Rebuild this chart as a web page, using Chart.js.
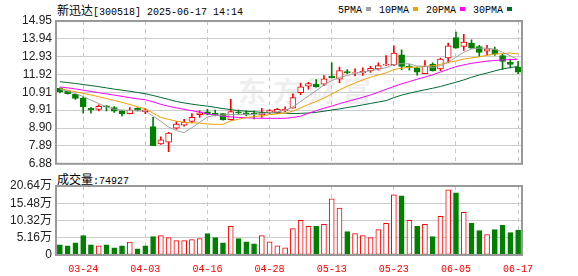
<!DOCTYPE html>
<html><head><meta charset="utf-8">
<script src="https://cdn.jsdelivr.net/npm/chart.js@4.4.1/dist/chart.umd.min.js"></script>
<style>
html,body{margin:0;padding:0;background:#fff;width:578px;height:276px;overflow:hidden;position:relative}
.t{position:absolute;white-space:nowrap;color:#000;line-height:14px}
.cjk{font:12px 'Noto Sans CJK SC',sans-serif}
.asc{font:10px 'Liberation Mono',monospace}
.sq{display:inline-block;width:5px;height:4px;margin:0 8px 1px 4px;vertical-align:middle}
canvas{position:absolute;left:0}
#wm{position:absolute;left:238px;top:70px;font:bold 28px 'Noto Sans CJK SC',sans-serif;color:#000;opacity:0.06;letter-spacing:7px;white-space:nowrap}
</style></head><body>
<div id="wm">东方财富</div>
<div class="t" id="title" style="left:57px;top:1px"></div>
<div class="t" id="legend" style="left:338px;top:1px"></div>
<div class="t" id="vtitle" style="left:57px;top:170px"></div>
<canvas id="c1" width="578" height="175" style="top:0"></canvas>
<canvas id="c2" width="578" height="106" style="top:170px"></canvas>
<script>
const stockName = '新迅达';
const stockCode = '300518';
const stamp = '2025-06-17 14:14';
const volLabel = '成交量';
const lastVolume = 74927;

const dates = ['03-19','03-20','03-21','03-24','03-25','03-26','03-27','03-28','03-31','04-01','04-02','04-03','04-07','04-08','04-09','04-10','04-11','04-14','04-15','04-16','04-17','04-18','04-21','04-22','04-23','04-24','04-25','04-28','04-29','04-30','05-06','05-07','05-08','05-09','05-12','05-13','05-14','05-15','05-16','05-19','05-20','05-21','05-22','05-23','05-26','05-27','05-28','05-29','05-30','06-03','06-04','06-05','06-06','06-09','06-10','06-11','06-12','06-13','06-16','06-17'];
const tickDates = ['03-24','04-03','04-16','04-28','05-13','05-23','06-05','06-17'];

const opens = [11.14,10.99,10.80,10.58,10.02,9.96,10.15,10.06,9.87,9.72,
 10.02,9.83,8.99,8.00,8.10,8.90,9.07,9.27,9.66,9.81,
 9.74,9.72,9.38,9.81,9.76,9.74,9.65,9.76,9.76,9.87,
 10.02,10.90,11.27,11.37,11.38,11.83,11.66,12.09,12.00,12.02,
 12.15,12.24,12.45,12.47,13.04,12.39,12.30,11.98,12.52,12.24,
 12.86,14.02,13.51,13.70,13.51,13.25,13.33,12.99,12.62,12.34];
const highs = [11.18,11.01,10.82,10.67,10.06,10.21,10.17,10.11,9.89,10.06,
 10.06,10.00,9.50,8.41,8.66,9.27,9.39,9.72,9.87,9.96,
 9.91,9.72,10.52,9.92,9.87,9.87,10.02,9.95,10.02,10.10,
 10.84,11.44,11.49,11.64,11.87,12.58,12.34,12.20,12.24,12.30,
 12.39,12.58,12.99,13.55,13.32,12.49,12.34,12.71,12.58,12.86,
 13.70,14.32,14.20,13.89,13.57,13.57,13.48,13.08,12.80,12.67];
const lows = [10.88,10.82,10.52,9.74,9.74,9.87,9.87,9.78,9.59,9.70,
 9.87,9.72,7.90,7.98,7.57,8.84,9.01,9.20,9.50,9.64,
 9.59,9.35,9.35,9.68,9.59,9.42,9.50,9.72,9.72,9.83,
 10.02,10.78,11.10,11.21,11.29,11.74,11.46,11.98,11.85,11.87,
 12.05,12.17,12.43,12.43,12.20,12.17,11.89,11.98,12.11,12.15,
 12.58,13.42,13.29,13.40,12.95,13.05,13.01,12.21,12.30,11.98];
const closes = [10.94,10.84,10.58,10.10,9.93,10.13,10.09,9.85,9.72,9.91,
 9.91,9.93,7.91,8.23,8.62,9.12,9.22,9.50,9.76,9.68,
 9.64,9.38,9.83,9.76,9.65,9.68,9.76,9.89,9.96,9.96,
 10.62,11.23,11.42,11.23,11.68,11.74,12.15,12.02,12.04,12.11,
 12.28,12.43,12.50,13.14,12.39,12.33,12.06,12.39,12.15,12.80,
 13.55,13.42,13.76,13.42,13.18,13.38,13.08,12.67,12.50,12.06];

// volume in 万
const volumes = [3.05,2.75,3.66,5.80,3.05,2.75,3.05,2.14,2.75,3.87,
 1.83,2.75,5.50,5.80,5.20,4.30,4.30,4.60,4.90,6.40,
 5.20,3.66,8.55,4.90,3.97,3.36,5.80,3.97,2.75,2.14,
 7.94,10.40,8.55,8.55,9.16,16.80,14.05,7.00,6.40,5.80,
 5.20,7.60,9.47,18.00,17.70,10.40,8.55,9.16,5.50,11.60,
 19.50,18.60,12.80,9.47,7.30,6.10,7.60,8.86,6.70,7.49];
const volUp = [0,0,0,0,0,1,0,0,0,1, 0,0,0,1,1,1,1,1,1,0, 0,0,1,0,0,0,1,1,1,1,
 1,1,1,0,1,1,1,0,1,1, 1,1,1,1,0,1,0,1,0,1, 1,0,1,0,0,1,0,0,0,0];

const ma5 = [11.09,10.98,10.85,10.68,10.48,10.28,10.10,9.96,9.92,9.89,
 9.87,9.85,9.58,9.28,8.95,8.76,8.64,8.92,9.22,9.52,
 9.62,9.63,9.67,9.67,9.66,9.67,9.72,9.77,9.82,9.90,
 10.09,10.40,10.72,11.01,11.34,11.58,11.76,11.87,11.99,12.06,
 12.15,12.22,12.31,12.49,12.54,12.53,12.40,12.40,12.32,12.42,
 12.62,12.90,13.18,13.37,13.42,13.41,13.36,13.19,12.98,12.76];
const ma10 = [11.13,11.04,10.95,10.86,10.77,10.67,10.57,10.46,10.35,10.23,
 10.11,9.99,9.74,9.50,9.39,9.29,9.22,9.19,9.18,9.13,
 9.11,9.11,9.30,9.40,9.49,9.55,9.59,9.66,9.70,9.74,
 9.86,10.04,10.23,10.40,10.60,10.82,11.06,11.26,11.45,11.62,
 11.78,11.90,12.02,12.21,12.28,12.34,12.34,12.39,12.42,12.50,
 12.61,12.69,12.80,12.86,12.93,13.01,13.09,13.11,13.14,13.09];
const ma20 = [11.22,11.17,11.11,11.04,10.97,10.90,10.83,10.76,10.69,10.62,
 10.55,10.50,10.38,10.24,10.13,10.04,9.96,9.88,9.80,9.70,
 9.63,9.57,9.53,9.50,9.48,9.46,9.45,9.45,9.45,9.45,
 9.50,9.57,9.74,9.88,10.02,10.14,10.28,10.40,10.52,10.64,
 10.77,10.93,11.09,11.25,11.40,11.53,11.66,11.78,11.91,12.07,
 12.22,12.37,12.47,12.56,12.62,12.68,12.72,12.75,12.77,12.78];
const ma30 = [11.52,11.47,11.42,11.36,11.30,11.24,11.17,11.10,11.04,10.98,
 10.91,10.84,10.74,10.63,10.52,10.40,10.32,10.25,10.19,10.14,
 10.07,10.00,9.94,9.89,9.85,9.82,9.79,9.77,9.75,9.74,
 9.72,9.73,9.75,9.79,9.85,9.92,9.98,10.06,10.13,10.21,
 10.29,10.37,10.45,10.62,10.76,10.87,10.97,11.06,11.15,11.25,
 11.37,11.49,11.62,11.77,11.90,12.01,12.13,12.24,12.32,12.38];

const maNames = ['5PMA','10PMA','20PMA','30PMA'];
const priceTicks = [6.88,7.89,8.90,9.91,10.91,11.92,12.93,13.94,14.95];
const volTicks = [0,5.16,10.32,15.48,20.64];

const RED = '#ff0000', GREEN = '#008000';
const maColors = ['#a0a0a0','#f0a000','#ff00ff','#006a32'];
const maData = [ma5, ma10, ma20, ma30];

document.getElementById('title').innerHTML =
  '<span class="cjk">' + stockName + '</span><span class="asc">[' + stockCode + '] ' + stamp + '</span>';
document.getElementById('legend').innerHTML = maNames.map((n,i) =>
  '<span class="asc">' + n + '</span><span class="sq" style="background:' + maColors[i] + '"></span>').join('');
document.getElementById('vtitle').innerHTML =
  '<span class="cjk">' + volLabel + '</span><span class="asc">:' + lastVolume + '</span>';

Chart.defaults.animation = false;
Chart.defaults.responsive = false;
Chart.defaults.devicePixelRatio = 1;
Chart.defaults.plugins.legend.display = false;
Chart.defaults.plugins.tooltip.enabled = false;

const frame = {id:'frame', afterDraw(chart){
  const {ctx, chartArea:a} = chart;
  ctx.save(); ctx.strokeStyle = '#999'; ctx.lineWidth = 2;
  ctx.strokeRect(a.left, a.top, a.right - a.left, a.bottom - a.top);
  ctx.restore();
}};

const up = closes.map((c,i) => c >= opens[i]);
const xGridColor = ctx => tickDates.includes(dates[ctx.index]) ? '#c8c8c8' : 'rgba(0,0,0,0)';

new Chart(document.getElementById('c1'), {
  type: 'bar',
  data: {
    labels: dates,
    datasets: [
      ...maData.map((d,i) => ({type:'line', data:d, borderColor:maColors[i], borderWidth:1, pointRadius:0, tension:0, order:1})),
      {data: opens.map((o,i) => [o, closes[i]]), grouped:false, barThickness:6, borderWidth:1, borderSkipped:false,
        backgroundColor: up.map(u => u ? '#ffffff' : GREEN), borderColor: up.map(u => u ? RED : GREEN), order:2},
      {data: lows.map((l,i) => [l, highs[i]]), grouped:false, barThickness:1,
        backgroundColor: up.map(u => u ? RED : GREEN), order:3}
    ]
  },
  options: {
    layout: {padding: {left:0, right:56, top:21, bottom:10}},
    scales: {
      x: {offset:true, grid:{offset:false, drawTicks:false, color:xGridColor, lineWidth:1},
          border:{display:false, dash:[4,4]}, ticks:{display:false, autoSkip:false},
          afterFit: s => { s.height = 0; }},
      y: {min:6.88, max:14.95, grid:{drawTicks:false, color:'#cccccc', lineWidth:1}, border:{display:false},
          afterBuildTicks: s => { s.ticks = priceTicks.map(v => ({value:v})); },
          afterFit: s => { s.width = 56; },
          ticks:{autoSkip:false, padding:4, color:'#222', font:{family:'Liberation Sans', size:12}, callback: v => Number(v).toFixed(2)}}
    }
  },
  plugins: [frame]
});

new Chart(document.getElementById('c2'), {
  type: 'bar',
  data: {
    labels: dates,
    datasets: [{data: volumes, barThickness:5, borderWidth:1, borderSkipped:false,
      backgroundColor: volUp.map(u => u ? '#ffffff' : GREEN), borderColor: volUp.map(u => u ? RED : GREEN)}]
  },
  options: {
    layout: {padding: {left:0, right:56, top:16, bottom:0}},
    scales: {
      x: {offset:true, grid:{offset:false, drawTicks:false, color:xGridColor, lineWidth:1},
          border:{display:false, dash:[4,4]},
          ticks:{autoSkip:false, maxRotation:0, padding:8, color:RED, font:{family:'Liberation Mono', size:10},
                 callback: (v,i) => tickDates.includes(dates[i]) ? dates[i] : ''},
          afterFit: s => { s.height = 21; }},
      y: {min:0, max:20.64, grid:{drawTicks:false, color:'#cccccc', lineWidth:1}, border:{display:false},
          afterBuildTicks: s => { s.ticks = volTicks.map(v => ({value:v})); },
          afterFit: s => { s.width = 56; },
          ticks:{autoSkip:false, padding:4, color:'#222', font:{family:"Liberation Sans, 'Noto Sans CJK SC'", size:12},
                 callback: v => v === 0 ? '0' : Number(v).toFixed(2) + '万'}}
    }
  },
  plugins: [frame]
});
</script>
</body></html>
